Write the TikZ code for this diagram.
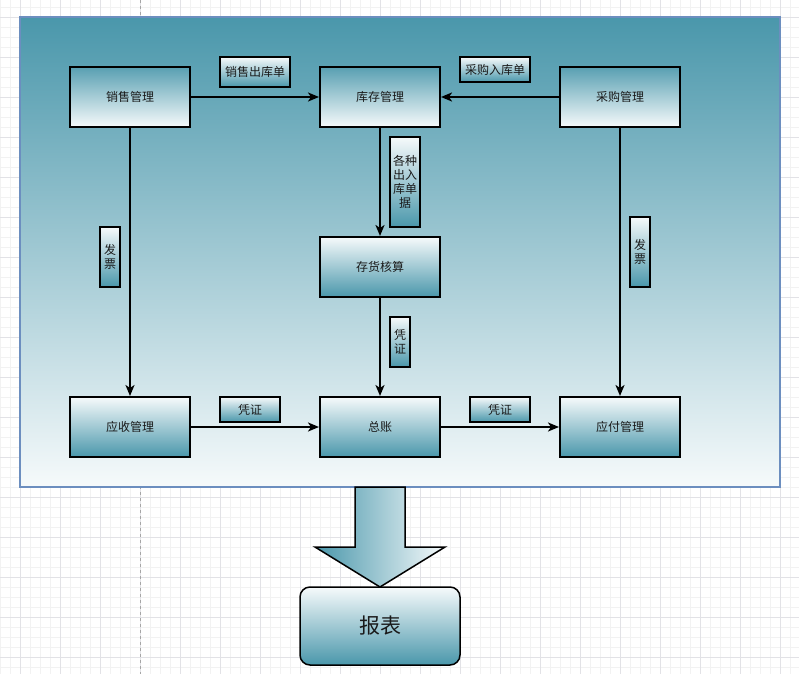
\documentclass[tikz,border=0pt]{standalone}
\usepackage{fontspec}
\setmainfont{Noto Sans CJK SC}
\usetikzlibrary{arrows.meta}
\definecolor{tealc}{HTML}{4A97AB}
\definecolor{palec}{HTML}{F6FAFB}
\definecolor{frame}{HTML}{6C8EBF}
\definecolor{gridminor}{HTML}{F2F2F2}
\definecolor{gridmajor}{HTML}{E2E2E6}
\definecolor{txt}{HTML}{1A1A1A}
\begin{document}
\begin{tikzpicture}[x=1pt,y=-1pt,
  boxbase/.style={draw=black, line width=2pt, minimum width=120pt, minimum height=60pt, inner sep=0pt,
    font=\fontsize{12}{14}\selectfont, text=txt},
  boxdark/.style={boxbase, top color=tealc!92, bottom color=palec},
  boxlight/.style={boxbase, top color=palec, bottom color=tealc},
  lbl/.style={draw=black, line width=2pt, inner sep=0pt, top color=palec, bottom color=tealc,
    font=\fontsize{12}{14}\selectfont, text=txt, align=center},
  conn/.style={line width=2pt, -{Stealth[length=11pt,width=9pt,inset=3pt]}}]
\useasboundingbox (0,0) rectangle (799,674);
\fill[white] (0,0) rectangle (799,674);
% grid
\foreach \i in {0,10,...,790} \draw[gridminor, line width=0.6pt] (\i,0) -- (\i,674);
\foreach \j in {7,17,...,667} \draw[gridminor, line width=0.6pt] (0,\j) -- (799,\j);
\foreach \i in {20,60,...,780} \draw[gridmajor, line width=0.8pt] (\i,0) -- (\i,674);
\foreach \j in {17,57,...,657} \draw[gridmajor, line width=0.8pt] (0,\j) -- (799,\j);
\draw[gray!70, dashed, line width=0.8pt] (140,0) -- (140,674);
% container
\path[draw=frame, line width=1.5pt, top color=tealc, bottom color=palec] (20,17) rectangle (780,487);
% main boxes
\node[boxdark] (xs) at (130,97) {销售管理};
\node[boxdark] (kc) at (380,97) {库存管理};
\node[boxdark] (cg) at (620,97) {采购管理};
\node[boxlight] (ch) at (380,267) {存货核算};
\node[boxlight] (ys) at (130,427) {应收管理};
\node[boxlight] (zz) at (380,427) {总账};
\node[boxlight] (yf) at (620,427) {应付管理};
% labels
\node[lbl, minimum width=70pt, minimum height=30pt] (l1) at (255,72) {销售出库单};
\node[lbl, minimum width=70pt, minimum height=25pt] (l2) at (495,69.5) {采购入库单};
\node[lbl, minimum width=30pt, minimum height=90pt] (l3) at (405,182) {各种\\出入\\库单\\据};
\node[lbl, minimum width=20pt, minimum height=50pt] (l4) at (400,342) {凭\\证};
\node[lbl, minimum width=20pt, minimum height=60pt] (l5) at (110,257) {发\\票};
\node[lbl, minimum width=20pt, minimum height=70pt] (l6) at (640,252) {发\\票};
\node[lbl, minimum width=60pt, minimum height=25pt] (l7) at (250,409.5) {凭证};
\node[lbl, minimum width=60pt, minimum height=25pt] (l8) at (500,409.5) {凭证};
% connectors
\draw[conn] (xs) -- (kc);
\draw[conn] (cg) -- (kc);
\draw[conn] (kc) -- (ch);
\draw[conn] (ch) -- (zz);
\draw[conn] (xs) -- (ys);
\draw[conn] (cg) -- (yf);
\draw[conn] (ys) -- (zz);
\draw[conn] (zz) -- (yf);
% big arrow
\coordinate (arrtop) at (380,487);
\path[draw=black, line width=1.5pt, line join=miter, left color=tealc, right color=palec]
  (355,487) -- (405,487) -- (405,547) -- (445,547) -- (380,587) -- (315,547) -- (355,547) -- cycle;
% report
\node[draw=black, line width=1.5pt, rounded corners=10pt, minimum width=160pt, minimum height=78pt,
  inner sep=0pt, top color=palec, bottom color=tealc, font=\fontsize{21}{24}\selectfont, text=txt]
  (bb) at (380,626) {报表};
\end{tikzpicture}
\end{document}
